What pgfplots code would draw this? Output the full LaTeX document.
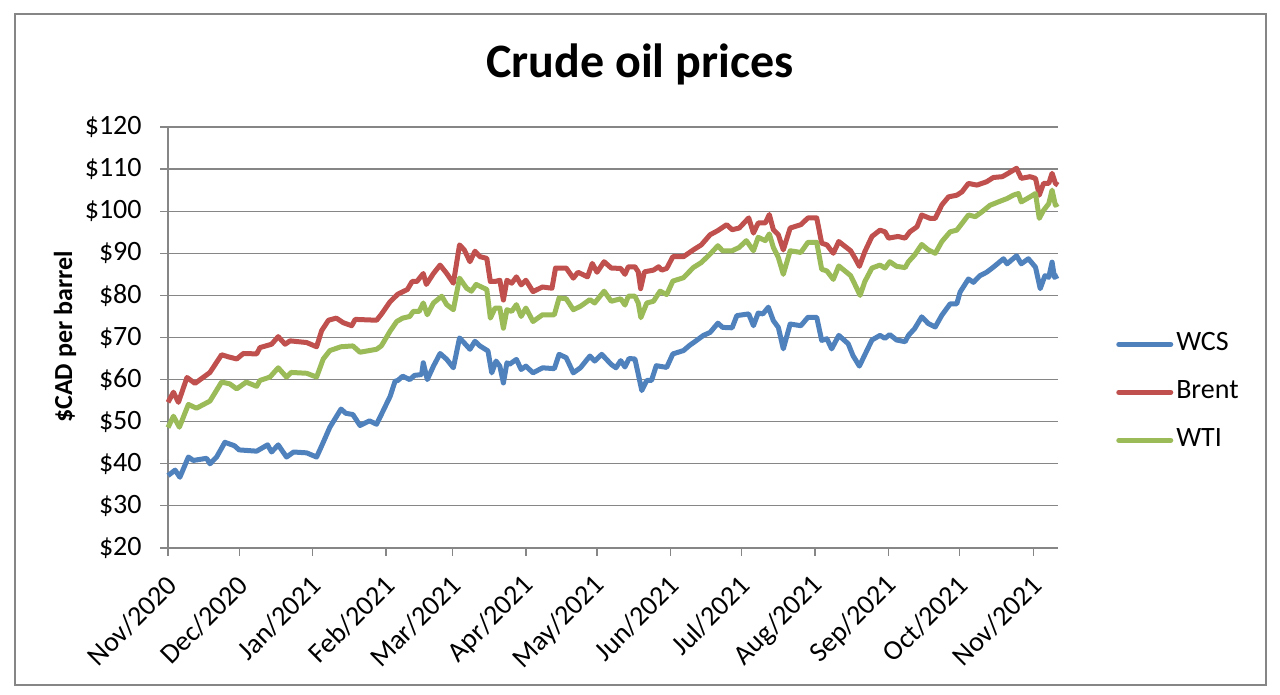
\documentclass[border=0pt]{standalone}
\usepackage{fontspec}
\setmainfont{Carlito}
\usepackage{pgfplots}
\pgfplotsset{compat=1.18}
\definecolor{wcs}{RGB}{79,129,189}
\definecolor{brent}{RGB}{192,80,77}
\definecolor{wti}{RGB}{155,187,89}
\definecolor{gridgray}{RGB}{134,134,134}

% days counted from 1 Nov 2020
\pgfplotstableread{
day val
0 37.2
3 38.5
5 36.8
8.6 41.6
10.7 40.8
16.3 41.3
17.7 40
20.5 41.6
24 45.1
28 44.3
30 43.3
37.4 43
42 44.5
43.7 42.8
46.5 44.5
50 41.6
53 42.8
58.5 42.6
62.7 41.6
65.5 45.1
68.3 48.7
73 53
75 52
78 51.7
81 49.1
85 50.2
88 49.4
89.4 51
93.7 56
95.8 59.6
97 59.8
99 60.8
102 60
104 61
107 61.2
107.7 64
109.4 60
112 63.2
114.8 66.2
117.6 64.8
120.4 62.8
123 69.9
125 68.7
127.4 67.2
129.5 69.1
131.6 68
135 66.8
136.6 61.6
138.4 64.4
140 63.2
141.5 59.2
143 64
144 63.6
147 64.8
149 62.4
151 63.2
154 61.6
158 62.8
163 62.6
165 66
168 65.2
171 61.6
174 62.8
178 65.6
180 64.4
183 66
187 63.6
189 62.8
191 64.5
192.8 63
194.5 65
197 64.9
198.4 61.3
199.9 57.4
202 59.8
204 59.8
206 63.3
210.4 62.9
213 66.1
217.5 66.9
220 68.1
223 69.3
225.9 70.5
228.7 71.2
232 73.4
234 72.4
238 72.3
240 75.2
245 75.6
247 72.8
249 75.8
251 75.6
253.3 77.2
255.4 74
257.5 72.4
259.6 67.3
262.5 73.2
267 72.8
270 74.8
273.7 74.8
275.8 69.3
278 69.7
280 67.3
283 70.5
287 68.5
289 65.7
291.7 63.2
294 65.9
297 69.4
300.4 70.5
302.5 69.8
304.5 70.7
307.4 69.4
311 69
312.4 70.5
315 72.1
318 74.9
320.8 73.3
323.7 72.5
326.5 75.3
330 78
332.8 78
334.2 80.8
337.7 83.9
339.8 83.1
342.6 84.7
345.4 85.5
348.2 86.7
352.5 88.7
354 87.5
358 89.4
360 87.5
363 88.7
366 86.7
368 81.6
370 84.7
371.6 84.3
373 87.9
374 84.3
375.5 84.7
}\wcsdata

\pgfplotstableread{
day val
0 54.6
2.3 57
4.4 54.6
8 60.5
11.4 59.1
17.7 61.7
22.6 65.9
25.5 65.4
29 64.9
31.8 66.2
37.4 66.1
38.8 67.6
43.7 68.4
46.5 70.2
49.4 68.4
51.5 69.2
58.5 68.8
62.7 67.8
64.8 71.6
67.7 74.1
71 74.6
74 73.5
77.5 72.8
79 74.3
88 74.1
90 75.5
93.7 78.5
97 80.3
101 81.4
103 83.3
105 83.3
107.7 85.2
109 82.6
112 85.2
114.8 87.2
117.6 85.2
120.4 82.9
123 92
125 90.8
127.4 88
129.5 90.5
131.6 89.2
134.5 88.8
136 83.3
138 83.3
140 83.6
141.5 78.9
143 83.6
145 82.9
147 84.4
149 82.5
151 83.6
154 80.9
158 82
162 81.7
163.5 86.5
168 86.5
171 84.1
173 85.5
177 84.4
179 87.6
181 85.5
184 88
187 86.5
191 86.4
192.8 85
194.2 86.8
197 86.8
198.4 85.6
199.4 81.6
201 85.6
204.8 86
207 86.8
208.3 86
210.4 86.4
213 89.2
217.5 89.2
221.6 90.8
225 92
228.7 94.4
232 95.4
235.7 96.8
238 95.6
241 96
245 98.4
247 94.8
249 97.2
252 97.2
253.7 99.2
255.4 95.6
257.5 94.4
259.6 90.8
262.5 96
267 96.8
270 98.4
273.7 98.4
275.8 92.4
278 92
280.7 90
283 92.8
288 90.6
289.9 88.8
291.7 86.9
294 90.4
297 94
300.4 95.5
302.5 95.1
304 93.6
308 94
311 93.6
313 95.1
316 96.3
318 99.1
321.5 98.3
323.7 98.3
326.5 101.5
329.3 103.4
332.8 103.8
335 104.6
337.7 106.6
341.3 106.2
345.4 107
348.2 108
352 108.2
354.5 109
358 110.2
360 107.8
363.7 108.2
366 107.8
367.6 103.8
369.4 106.6
371.6 106.6
373 109
374.4 106.6
375.5 106.2
}\brentdata

\pgfplotstableread{
day val
0 48.6
2.3 51.3
4.8 48.7
8.6 54.1
12 53.2
17.7 54.9
22.6 59.4
26 59
29 57.8
33 59.4
37.4 58.4
38.8 59.8
43 60.6
46.5 62.8
50 60.6
52 61.7
58.5 61.5
62.7 60.6
65.5 64.9
68.3 66.9
73 67.8
78 68
81 66.5
88 67.2
90 68
93.7 71.5
96.5 73.8
99 74.6
102 75
103.5 76.2
106 76.2
107.7 78.2
109.4 75.4
112 78.2
115.5 79.8
117.6 77.8
120.4 76.6
123 84.1
126 81.7
128 81
130 82.6
134.5 81.4
136 74.6
138 77
140 77
141.5 72.2
143 76.6
145 76.2
147 77.8
149 75
151 77
154 73.8
158 75.4
163 75.4
165 79.4
168 79.2
171 76.6
174 77.4
178 79
180 78.2
184 81
187 78.6
191 79.2
192.8 77.7
194.2 79.8
197 79.8
198.4 78.2
199.5 74.7
202 78.2
204.8 78.6
207.6 81
210.4 80.2
213 83.4
217.5 84.2
221.6 86.6
225 87.8
228.7 89.8
232 91.8
234 90.6
238 90.6
241 91.4
244 93
247 90.6
249 93.8
252 93
253.7 94.6
255.4 91.4
257.5 89
259.6 85
262.5 90.6
267 90.2
270 92.6
273.7 92.6
275.8 86.2
278 85.8
280.7 83.8
283 87
288 84.7
289.9 82.5
292 80
294 83.3
297 86.5
300.4 87.2
302.5 86.5
304.5 88
307.4 86.9
311 86.6
312.4 88
315 89.6
318 92.1
320.8 90.8
323.7 90
326.5 92.8
330 95.1
332.8 95.5
335 97.1
337.7 99.1
340.6 98.7
343.3 99.8
346.8 101.4
350.3 102.2
354 103
356.6 103.8
358.8 104.2
360 102.2
363.7 103.4
366 104.2
367.6 98.3
369.4 100.2
371.6 101.8
373 105
374.4 101.4
375.5 101.8
}\wtidata

\begin{document}
\begin{tikzpicture}
\path[use as bounding box, fill=white] (0,0) rectangle (640pt,347.5pt);
\draw[gridgray, line width=0.6pt] (7.5pt,5pt) rectangle (633pt,340.5pt);

\node[font=\fontsize{24}{28}\selectfont\bfseries, anchor=base] at (320pt,308.5pt) {Crude oil prices};
\node[font=\fontsize{13}{16}\selectfont\bfseries, rotate=90] at (32.5pt,179pt) {\$CAD per barrel};

\begin{axis}[
    at={(84pt,73.5pt)}, anchor=south west,
    scale only axis,
    width=445pt, height=210.5pt,
    xmin=0, xmax=375.5,
    ymin=20, ymax=120,
    axis x line*=bottom, axis y line*=left,
    axis line style={gridgray, line width=0.6pt, -},
    tick align=outside,
    major tick length=4pt,
    tick style={gridgray, line width=0.6pt},
    ytick={20,30,...,120},
    yticklabels={\$20,\$30,\$40,\$50,\$60,\$70,\$80,\$90,\$100,\$110,\$120},
    xtick={0,30,61,92,120,151,181,212,242,273,304,334,365},
    xticklabels={Nov/2020,Dec/2020,Jan/2021,Feb/2021,Mar/2021,Apr/2021,May/2021,Jun/2021,Jul/2021,Aug/2021,Sep/2021,Oct/2021,Nov/2021},
    ymajorgrids,
    major grid style={gridgray, line width=0.6pt},
    ticklabel style={font=\fontsize{14}{16}\selectfont, text=black},
    xticklabel style={xshift=2pt, yshift=-12.5pt, rotate=45, anchor=east, inner sep=0pt},
    yticklabel style={anchor=east, inner sep=0pt, xshift=-9pt},
    clip=false,
    legend style={draw=none, fill=none, at={(axis description cs:1.065,0.37)}, anchor=west,
        inner sep=0pt, row sep=9pt,
        nodes={inner sep=1.5pt, text height=9pt, text depth=3pt, font=\fontsize{14}{16}\selectfont}},
    legend cell align=left,
    legend image code/.code={\draw[#1, line width=2.5pt, line cap=round] (0pt,0pt) -- (26pt,0pt);},
    every axis plot/.append style={line width=2.5pt, line join=round, mark=none},
]
\addplot[wcs] table[x=day, y=val] {\wcsdata};
\addplot[brent] table[x=day, y=val] {\brentdata};
\addplot[wti] table[x=day, y=val] {\wtidata};
\legend{WCS,Brent,WTI}
\end{axis}
\end{tikzpicture}
\end{document}
